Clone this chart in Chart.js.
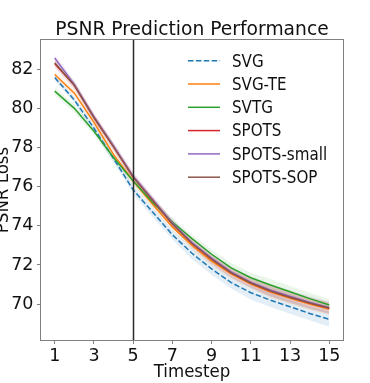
<!DOCTYPE html>
<html>
<head>
<meta charset="utf-8">
<script src="https://cdn.jsdelivr.net/npm/chart.js@4.4.1/dist/chart.umd.min.js"></script>
<style>
  html, body { margin: 0; padding: 0; background: #ffffff; }
  #wrap { width: 370px; height: 383px; }
</style>
</head>
<body>
<div id="wrap"><canvas id="chart" width="370" height="383"></canvas></div>
<script>
// values
const TIMESTEPS = [1, 2, 3, 4, 5, 6, 7, 8, 9, 10, 11, 12, 13, 14, 15];
const X_TICKS = [1, 3, 5, 7, 9, 11, 13, 15];
const Y_TICKS = [70, 72, 74, 76, 78, 80, 82];
const MARKER_STEP = 5;

const SERIES_NAMES = ['SVG', 'SVG-TE', 'SVTG', 'SPOTS', 'SPOTS-small', 'SPOTS-SOP'];
const SVG_VALUES = [81.6, 80.45, 79.0, 77.45, 75.85, 74.7, 73.55, 72.6, 71.8, 71.1, 70.58, 70.2, 69.86, 69.52, 69.22];
const SVG_TE_VALUES = [81.75, 80.8, 79.3, 77.65, 76.3, 75.1, 73.95, 73.0, 72.2, 71.55, 71.03, 70.62, 70.3, 70.0, 69.75];
const SVTG_VALUES = [80.9, 80.02, 78.85, 77.5, 76.3, 75.2, 74.2, 73.35, 72.55, 71.85, 71.35, 70.98, 70.63, 70.28, 69.95];
const SPOTS_VALUES = [82.3, 81.2, 79.55, 78.05, 76.5, 75.3, 74.1, 73.1, 72.3, 71.6, 71.08, 70.67, 70.35, 70.05, 69.78];
const SPOTS_SMALL_VALUES = [82.6, 81.25, 79.6, 78.1, 76.55, 75.35, 74.15, 73.15, 72.35, 71.65, 71.12, 70.72, 70.4, 70.1, 69.82];
const SPOTS_SOP_VALUES = [82.35, 81.2, 79.55, 78.05, 76.5, 75.3, 74.1, 73.1, 72.3, 71.6, 71.08, 70.67, 70.35, 70.05, 69.8];

// half-width of the shaded bands
const SVG_SPREAD = [0.15, 0.15, 0.2, 0.2, 0.2, 0.25, 0.25, 0.3, 0.3, 0.3, 0.35, 0.35, 0.35, 0.35, 0.38];
const OTHER_SPREAD = [0.2, 0.2, 0.2, 0.2, 0.2, 0.2, 0.2, 0.2, 0.25, 0.25, 0.25, 0.3, 0.3, 0.3, 0.3];

const SERIES_VALUES = [SVG_VALUES, SVG_TE_VALUES, SVTG_VALUES, SPOTS_VALUES, SPOTS_SMALL_VALUES, SPOTS_SOP_VALUES];
const SERIES_SPREADS = [SVG_SPREAD, OTHER_SPREAD, OTHER_SPREAD, OTHER_SPREAD, OTHER_SPREAD, OTHER_SPREAD];

const COLORS = ['#1f77b4', '#ff7f0e', '#2ca02c', '#d62728', '#9467bd', '#8c564b'];
const FONT = '"DejaVu Sans", sans-serif';

function rgba(hex, a) {
  const n = parseInt(hex.slice(1), 16);
  return `rgba(${(n >> 16) & 255}, ${(n >> 8) & 255}, ${n & 255}, ${a})`;
}

// text in the reference is a bit narrower than plain DejaVu, so squeeze it
function drawText(ctx, text, x, y, size, align, squeeze, angle) {
  ctx.save();
  ctx.translate(x, y);
  if (angle) ctx.rotate(angle);
  ctx.scale(squeeze, 1);
  ctx.font = `${size}px ${FONT}`;
  ctx.textAlign = align;
  ctx.textBaseline = 'alphabetic';
  ctx.fillText(text, 0, 0);
  ctx.restore();
}

const datasets = [];
SERIES_NAMES.forEach((name, i) => {
  const values = SERIES_VALUES[i];
  const spread = SERIES_SPREADS[i];
  const pts = (fn) => TIMESTEPS.map((t, k) => ({ x: t, y: fn(values[k], spread[k]) }));
  // later series sit on top, like matplotlib
  datasets.push({
    label: name,
    data: pts((v) => v),
    borderColor: COLORS[i],
    borderWidth: 1.5,
    borderDash: i === 0 ? [5.5, 2.4] : [],
    pointRadius: 0,
    tension: 0,
    fill: false,
    order: 10 - i,
  });
  datasets.push({
    label: name + ' upper',
    data: pts((v, s) => v + s),
    borderWidth: 0,
    pointRadius: 0,
    fill: '+1',
    backgroundColor: rgba(COLORS[i], i === 0 ? 0.12 : 0.1),
    order: 100 - 2 * i,
  });
  datasets.push({
    label: name + ' lower',
    data: pts((v, s) => v - s),
    borderWidth: 0,
    pointRadius: 0,
    fill: false,
    order: 99 - 2 * i,
  });
});

const overlayPlugin = {
  id: 'psnrOverlay',
  afterDatasetsDraw(chart) {
    const { ctx, chartArea: area, scales } = chart;
    ctx.save();
    const xm = Math.round(scales.x.getPixelForValue(MARKER_STEP)) + 0.5;
    ctx.strokeStyle = '#2a2a2a';
    ctx.lineWidth = 1.5;
    ctx.beginPath();
    ctx.moveTo(xm, area.top);
    ctx.lineTo(xm, area.bottom);
    ctx.stroke();

    ctx.strokeStyle = '#808080';
    ctx.lineWidth = 1;
    ctx.strokeRect(area.left - 0.5, area.top - 0.5, area.right - area.left + 1, area.bottom - area.top + 1);
    ctx.restore();
  },
  afterDraw(chart) {
    const { ctx, chartArea: area } = chart;
    ctx.save();
    ctx.fillStyle = '#111';
    const cx = (area.left + area.right) / 2;
    drawText(ctx, 'PSNR Prediction Performance', cx, 35, 20, 'center', 0.935);
    drawText(ctx, 'Timestep', cx, 377, 17.5, 'center', 0.95);
    // y title sits partly off the left edge, as in the reference
    drawText(ctx, 'PSNR Loss', 7.5, (area.top + area.bottom) / 2, 17.5, 'center', 0.95, -Math.PI / 2);

    // legend inside the axes, no frame
    SERIES_NAMES.forEach((name, i) => {
      const y = 60.7 + i * 23.3;
      ctx.strokeStyle = COLORS[i];
      ctx.lineWidth = 1.5;
      ctx.setLineDash(i === 0 ? [5.5, 2.4] : []);
      ctx.beginPath();
      ctx.moveTo(188, y);
      ctx.lineTo(220, y);
      ctx.stroke();
      ctx.setLineDash([]);
      drawText(ctx, name, 232, y + 5.8, 16.8, 'left', 0.9);
    });
    ctx.restore();
  },
};

new Chart(document.getElementById('chart').getContext('2d'), {
  type: 'line',
  data: { datasets },
  options: {
    responsive: false,
    animation: false,
    devicePixelRatio: 1,
    layout: { padding: { left: 0, top: 40, right: 27, bottom: 0 } },
    plugins: {
      legend: { display: false },
      tooltip: { enabled: false },
      filler: { propagate: false },
    },
    scales: {
      x: {
        type: 'linear',
        min: 0.3,
        max: 15.7,
        afterBuildTicks(scale) { scale.ticks = X_TICKS.map((v) => ({ value: v })); },
        afterFit(scale) { scale.height = 43; },
        grid: { drawOnChartArea: false, tickLength: 4, color: '#808080' },
        border: { display: false },
        ticks: { color: '#111', padding: 2, maxRotation: 0, font: { family: FONT, size: 17.5 } },
      },
      y: {
        type: 'linear',
        min: 68.16,
        max: 83.52,
        afterBuildTicks(scale) { scale.ticks = Y_TICKS.map((v) => ({ value: v })); },
        afterFit(scale) { scale.width = 41; },
        grid: { drawOnChartArea: false, tickLength: 4, color: '#808080' },
        border: { display: false },
        ticks: { color: '#111', padding: 3.5, font: { family: FONT, size: 17.5 } },
      },
    },
  },
  plugins: [overlayPlugin],
});
</script>
</body>
</html>
